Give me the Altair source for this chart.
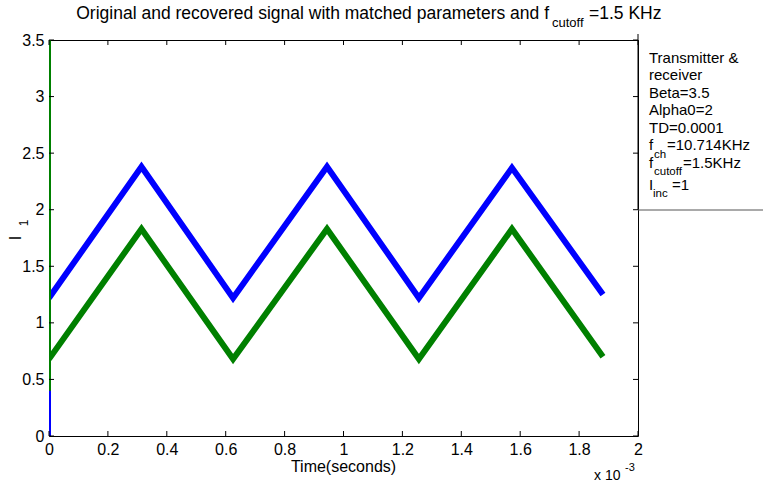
import altair as alt
import pandas as pd

FONT = "Liberation Sans"

# time axis in units of 1e-3 seconds (axis shows "x 10^-3")
time_ms = [0.0, 0.314, 0.625, 0.944, 1.256, 1.572, 1.881]
original_I1 = [1.22, 2.38, 1.22, 2.38, 1.22, 2.37, 1.25]    # blue
recovered_I1 = [0.68, 1.83, 0.68, 1.83, 0.68, 1.83, 0.70]   # green

# initial transient at t = 0
spike_t = [0.0, 0.0]
spike_blue = [0.0, 1.22]
spike_green = [0.4, 3.5]

xticks = [0, 0.2, 0.4, 0.6, 0.8, 1.0, 1.2, 1.4, 1.6, 1.8, 2.0]
yticks = [0, 0.5, 1.0, 1.5, 2.0, 2.5, 3.0, 3.5]

W, H = 589, 396

blue_df = pd.DataFrame({"t": time_ms, "v": original_I1})
green_df = pd.DataFrame({"t": time_ms, "v": recovered_I1})
sb_df = pd.DataFrame({"t": spike_t, "v": spike_blue})
sg_df = pd.DataFrame({"t": spike_t, "v": spike_green})
xt_df = pd.DataFrame({"t": xticks})
yt_df = pd.DataFrame({"v": yticks})
one = pd.DataFrame({"d": [0]})

xsc = alt.Scale(domain=[0, 2], nice=False, zero=False)
ysc = alt.Scale(domain=[0, 3.5], nice=False, zero=False)

xaxis = alt.Axis(values=xticks, format="~g", ticks=False, domain=False, grid=False,
                 labelPadding=5, labelFontSize=16, labelFont=FONT, labelColor="black",
                 labelFlush=False, labelOverlap=False, title=None)
yaxis = alt.Axis(values=yticks, format="~g", ticks=False, domain=False, grid=False,
                 labelPadding=5, labelFontSize=16, labelFont=FONT, labelColor="black",
                 labelFlush=False, labelOverlap=False, title=None)

blue = alt.Chart(blue_df).mark_line(color="#0000FF", strokeWidth=6, clip=True,
                                     strokeJoin="miter").encode(
    x=alt.X("t:Q", scale=xsc, axis=xaxis), y=alt.Y("v:Q", scale=ysc, axis=yaxis))
green = alt.Chart(green_df).mark_line(color="#008000", strokeWidth=6, clip=True,
                                       strokeJoin="miter").encode(x="t:Q", y="v:Q")
sblue = alt.Chart(sb_df).mark_line(color="#0000FF", strokeWidth=4, clip=True).encode(x="t:Q", y="v:Q")
sgreen = alt.Chart(sg_df).mark_line(color="#008000", strokeWidth=4, clip=True).encode(x="t:Q", y="v:Q")

tick_col = "black"
xt_bot = alt.Chart(xt_df).mark_rule(color=tick_col, strokeWidth=1).encode(
    x="t:Q", y=alt.value(H), y2=alt.value(H - 5))
xt_top = alt.Chart(xt_df).mark_rule(color=tick_col, strokeWidth=1).encode(
    x="t:Q", y=alt.value(0), y2=alt.value(5))
yt_left = alt.Chart(yt_df).mark_rule(color=tick_col, strokeWidth=1).encode(
    y="v:Q", x=alt.value(0), x2=alt.value(5))
yt_right = alt.Chart(yt_df).mark_rule(color=tick_col, strokeWidth=1).encode(
    y="v:Q", x=alt.value(W), x2=alt.value(W - 5))

box_v = alt.Chart(one).mark_rule(color="black", strokeWidth=1).encode(
    x=alt.value(W), y=alt.value(-6), y2=alt.value(170))
box_h = alt.Chart(one).mark_rule(color="#555555", strokeWidth=1).encode(
    x=alt.value(W), x2=alt.value(W + 140), y=alt.value(170))


def txt(s, x, y, size=16, align="left", angle=None):
    kw = dict(font=FONT, fontSize=size, align=align, baseline="middle", color="black")
    if angle is not None:
        kw["angle"] = angle
    return alt.Chart(one).mark_text(**kw).encode(
        x=alt.value(x), y=alt.value(y), text=alt.value(s))


LF = 15
SF = 11.5
texts = [
    # title
    txt("Original and recovered signal with matched parameters and f", 500, -26, 17.5, "right"),
    txt("cutoff", 503, -17, 13),
    txt("=1.5 KHz", 540, -26, 17.5),
    # axis titles
    txt("Time(seconds)", W / 2, 427, 16, "center"),
    txt("x 10", 545, 436, 14),
    txt("-3", 576, 428, 11),
    txt("I", -33, 198, 16, "center", 270),
    txt("1", -25, 183, 12, "center", 270),
    # legend box
    txt("Transmitter &", 600, 18, LF),
    txt("receiver", 600, 35, LF),
    txt("Beta=3.5", 600, 53, LF),
    txt("Alpha0=2", 600, 70, LF),
    txt("TD=0.0001", 600, 88, LF),
    txt("f", 600, 105, LF),
    txt("ch", 605, 115, SF),
    txt("=10.714KHz", 618, 105, LF),
    txt("f", 600, 123, LF),
    txt("cutoff", 605, 132, SF),
    txt("=1.5KHz", 634, 123, LF),
    txt("I", 600, 145, LF),
    txt("inc", 604, 154, SF),
    txt("=1", 623, 145, LF),
]

chart = alt.layer(
    blue, green, sblue, sgreen,
    xt_bot, xt_top, yt_left, yt_right,
    box_v, box_h, *texts
).properties(
    width=W, height=H,
    autosize=alt.AutoSizeParams(type="none"),
    padding={"left": 49, "top": 40, "right": 125, "bottom": 47},
    background="white",
).configure_view(stroke="black", strokeWidth=1)

chart.save("out.html", embed_options={"renderer": "svg", "actions": False})
